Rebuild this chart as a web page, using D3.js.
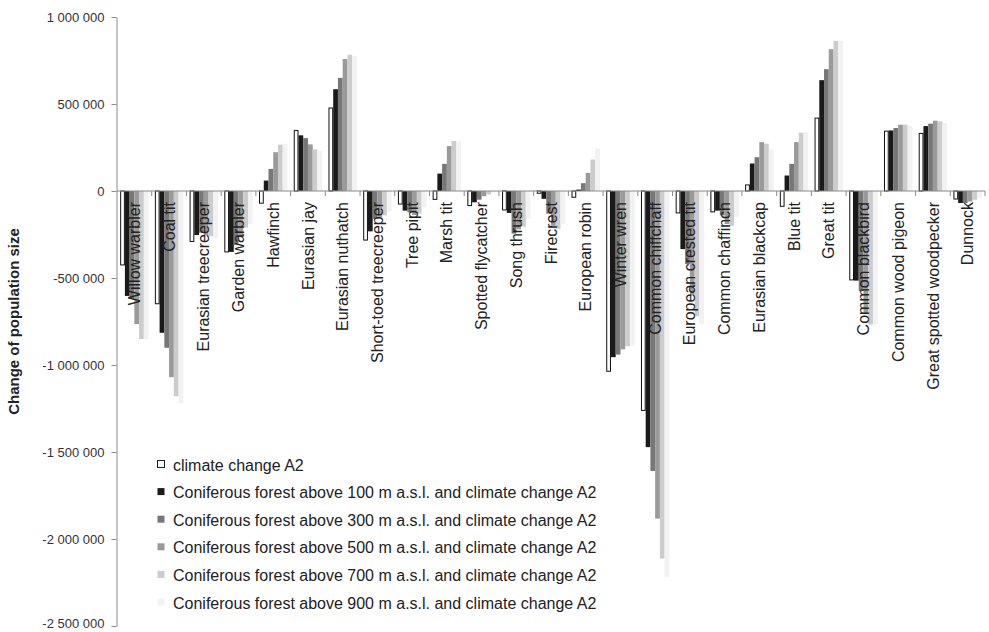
<!DOCTYPE html>
<html>
<head>
<meta charset="utf-8">
<script src="https://cdn.jsdelivr.net/npm/d3@7"></script>
<style>
  body { margin: 0; background: #fff; }
  svg { display: block; font-family: "Liberation Sans", Arial, sans-serif; }
</style>
</head>
<body>
<div id="chart"></div>
<script>
// species along the x axis
let species = ["Willow warbler", "Coal tit", "Eurasian treecreeper", "Garden warbler", "Hawfinch",
  "Eurasian jay", "Eurasian nuthatch", "Short-toed treecreeper", "Tree pipit", "Marsh tit",
  "Spotted flycatcher", "Song thrush", "Firecrest", "European robin", "Winter wren",
  "Common chiffchaff", "European crested tit", "Common chaffinch", "Eurasian blackcap", "Blue tit",
  "Great tit", "Common blackbird", "Common wood pigeon", "Great spotted woodpecker", "Dunnock"];

let seriesNames = ["climate change A2",
  "Coniferous forest above 100 m a.s.l. and climate change A2",
  "Coniferous forest above 300 m a.s.l. and climate change A2",
  "Coniferous forest above 500 m a.s.l. and climate change A2",
  "Coniferous forest above 700 m a.s.l. and climate change A2",
  "Coniferous forest above 900 m a.s.l. and climate change A2"];

let climateA2 = [-425000, -648000, -290000, -350000, -70000, 348000, 477000, -282000, -75000, -48000,
  -84000, -109000, -13000, -36000, -1036000, -1261000, -126000, -120000, 35000, -88000,
  419000, -511000, 344000, 331000, -46000];
let above100 = [-603000, -815000, -253000, -350000, 60000, 320000, 585000, -232000, -113000, 100000,
  -65000, -126000, -45000, 8000, -955000, -1472000, -334000, -113000, 158000, 89000,
  637000, -515000, 348000, 373000, -69000];
let above300 = [-620000, -901000, -240000, -310000, 127000, 304000, 650000, -160000, -122000, 156000,
  -50000, -245000, -130000, 45000, -940000, -1609000, -420000, -140000, 194000, 156000,
  700000, -575000, 362000, 387000, -69000];
let above500 = [-765000, -1070000, -255000, -265000, 223000, 268000, 758000, -150000, -138000, 258000,
  -30000, -220000, -200000, 104000, -910000, -1883000, -600000, -190000, 281000, 281000,
  815000, -708000, 381000, 404000, -60000];
let above700 = [-851000, -1180000, -260000, -210000, 266000, 239000, 783000, -140000, -130000, 287000,
  -20000, -205000, -217000, 181000, -892000, -2112000, -720000, -200000, 272000, 335000,
  863000, -767000, 381000, 400000, -50000];
let above900 = [-851000, -1220000, -270000, -190000, 272000, 231000, 775000, -120000, -95000, 285000,
  -10000, -160000, -190000, 243000, -890000, -2218000, -765000, -150000, 239000, 339000,
  863000, -767000, 375000, 391000, -40000];

let yTicks = [1000000, 500000, 0, -500000, -1000000, -1500000, -2000000, -2500000];

let fills = ["#ffffff", "#1a1a1a", "#777777", "#9a9a9a", "#cccccc", "#f2f2f2"];

let allSeries = [climateA2, above100, above300, above500, above700, above900];

let width = 989, height = 632;
let margin = { top: 17, right: 4, bottom: 6, left: 117 };

let x0 = d3.scaleBand().domain(species).range([margin.left, width - margin.right]).padding(0);
let x1 = d3.scaleBand().domain(d3.range(6))
  .range([3.15, x0.bandwidth() - 3.15]).padding(0);
let y = d3.scaleLinear().domain([-2500000, 1000000]).range([height - margin.bottom, margin.top]);

let locale = d3.formatLocale({ decimal: ".", thousands: " ", grouping: [3], currency: ["", ""], minus: "-" });
let fmt = locale.format(",d");

const svg = d3.create("svg").attr("width", width).attr("height", height);

// y axis
let yAxis = svg.append("g")
  .attr("transform", `translate(${margin.left - 0.5},0)`)
  .call(d3.axisLeft(y).tickValues(yTicks).tickFormat(fmt).tickSizeInner(5).tickSizeOuter(0));
yAxis.select(".domain").attr("stroke", "#8a8a8a");
yAxis.selectAll(".tick line").attr("stroke", "#8a8a8a");
yAxis.selectAll(".tick text")
  .attr("font-family", "Liberation Sans, Arial, sans-serif")
  .attr("font-size", 13).attr("fill", "#333").attr("x", -12);
// bottom label sits on the edge of the picture, nudge it up a little
yAxis.selectAll(".tick text").filter(d => d === -2500000).attr("dy", "0.1em");

svg.append("text")
  .attr("transform", `translate(19,${(y(1000000) + y(-2500000)) / 2}) rotate(-90)`)
  .attr("text-anchor", "middle")
  .attr("font-size", 15).attr("font-weight", "bold").attr("fill", "#222")
  .text("Change of population size");

// bars
let rows = species.map((s, i) => ({ s, values: allSeries.map(a => a[i]) }));

let groups = svg.append("g").selectAll("g")
  .data(rows)
  .join("g")
  .attr("transform", d => `translate(${x0(d.s)},0)`);

groups.selectAll("rect")
  .data(d => d.values.map((v, k) => ({ k, v })))
  .join("rect")
  .attr("x", d => x1(d.k) + (d.k === 0 ? 0.5 : 0))
  .attr("width", d => x1.bandwidth() - (d.k === 0 ? 1 : 0))
  .attr("y", d => Math.min(y(d.v), y(0)))
  .attr("height", d => Math.abs(y(d.v) - y(0)))
  .attr("fill", d => fills[d.k])
  .attr("stroke", d => d.k === 0 ? "#111" : "none")
  .attr("stroke-width", 1);

// zero line with category ticks
let zero = svg.append("g").attr("stroke", "#8a8a8a");
zero.append("line")
  .attr("x1", margin.left).attr("x2", width - margin.right)
  .attr("y1", y(0)).attr("y2", y(0));
zero.selectAll(".ct")
  .data(species)
  .join("line")
  .attr("class", "ct")
  .attr("x1", d => x0(d) + x0.bandwidth()).attr("x2", d => x0(d) + x0.bandwidth())
  .attr("y1", y(0)).attr("y2", y(0) + 5);

// category labels
svg.append("g").selectAll("text")
  .data(species)
  .join("text")
  .attr("transform", d => `translate(${x0(d) + x0.bandwidth() / 2},${y(0) + 11}) rotate(-90)`)
  .attr("text-anchor", "end")
  .attr("dy", "0.35em")
  .attr("font-size", 16).attr("fill", "#222")
  .text(d => d);

// legend
let legend = svg.append("g").attr("transform", "translate(157,465)");
let item = legend.selectAll("g")
  .data(seriesNames)
  .join("g")
  .attr("transform", (d, i) => `translate(0,${i * 27.6})`);
item.append("rect")
  .attr("x", 0.5).attr("y", -4.5).attr("width", 7).attr("height", 7)
  .attr("fill", (d, i) => fills[i])
  .attr("stroke", (d, i) => i === 0 ? "#222" : "none");
item.append("text")
  .attr("x", 16).attr("dy", "0.35em")
  .attr("font-size", 16).attr("fill", "#222")
  .text(d => d);

d3.select("#chart").append(() => svg.node());
</script>
</body>
</html>
